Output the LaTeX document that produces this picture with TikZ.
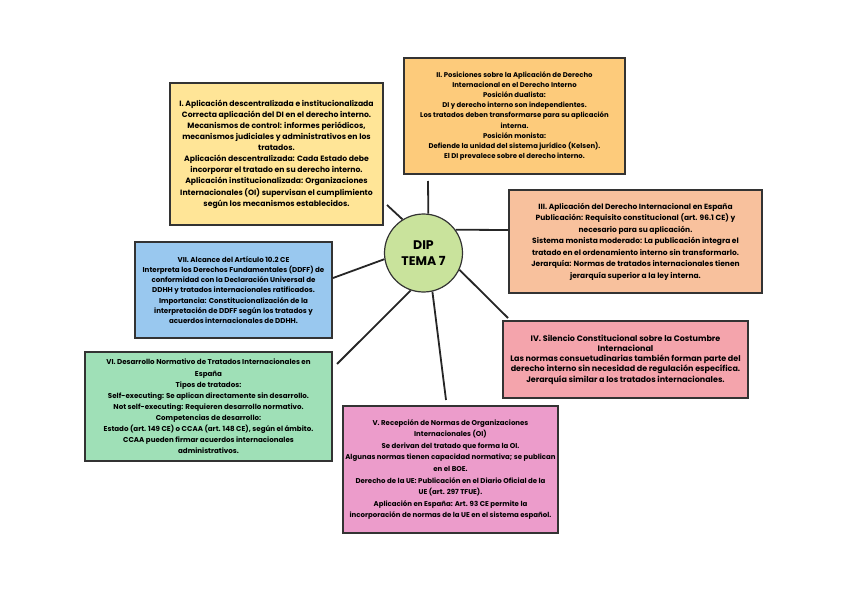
\documentclass[tikz,border=0pt]{standalone}
\usepackage{fontspec}
\setmainfont{Poppins}
\usepackage{tikz}
\usepackage{xcolor}

\definecolor{amarillo}{HTML}{FFE597}
\definecolor{naranja}{HTML}{FDCB7B}
\definecolor{melocoton}{HTML}{F8C19D}
\definecolor{rosa}{HTML}{F4A4AC}
\definecolor{magenta}{HTML}{EC9CCB}
\definecolor{verde}{HTML}{9FE0B7}
\definecolor{azul}{HTML}{99C8EF}
\definecolor{lima}{HTML}{C9E39C}

\begin{document}
\begin{tikzpicture}[x=1pt, y=-1pt,
    caja/.style={draw=black!80, line width=1.2pt, align=center, inner sep=2pt},
    enlace/.style={line width=1.8pt, draw=black!85}]
    \useasboundingbox (0,0) rectangle (848,596);
    \node[caja, fill=lima, circle, minimum size=78pt, font=\fontsize{12.5}{15.5}\selectfont\bfseries] (dip) at (423.5,253) {DIP\\TEMA 7};
    \node[caja, fill=amarillo, minimum width=213pt, minimum height=142pt, font=\fontsize{7.7}{11.1}\selectfont\bfseries] (descent) at (276.5,154) {I. Aplicación descentralizada e institucionalizada\\Correcta aplicación del DI en el derecho interno.\\Mecanismos de control: informes periódicos,\\mecanismos judiciales y administrativos en los\\tratados.\\Aplicación descentralizada: Cada Estado debe\\incorporar el tratado en su derecho interno.\\Aplicación institucionalizada: Organizaciones\\Internacionales (OI) supervisan el cumplimiento\\según los mecanismos establecidos.};
    \node[caja, fill=naranja, minimum width=221pt, minimum height=116pt, font=\fontsize{6.9}{10.2}\selectfont\bfseries] (posic) at (514.5,116) {II. Posiciones sobre la Aplicación de Derecho\\Internacional en el Derecho Interno\\Posición dualista:\\DI y derecho interno son independientes.\\Los tratados deben transformarse para su aplicación\\interna.\\Posición monista:\\Defiende la unidad del sistema jurídico (Kelsen).\\El DI prevalece sobre el derecho interno.};
    \node[caja, fill=melocoton, minimum width=253pt, minimum height=103pt, font=\fontsize{7.5}{11.5}\selectfont\bfseries] (espana) at (635.5,241.5) {III. Aplicación del Derecho Internacional en España\\Publicación: Requisito constitucional (art. 96.1 CE) y\\necesario para su aplicación.\\Sistema monista moderado: La publicación integra el\\tratado en el ordenamiento interno sin transformarlo.\\Jerarquía: Normas de tratados internacionales tienen\\jerarquía superior a la ley interna.};
    \node[caja, fill=rosa, minimum width=245pt, minimum height=77pt, font=\fontsize{8}{10.3}\selectfont\bfseries] (costumbre) at (625.5,359.5) {IV. Silencio Constitucional sobre la Costumbre\\Internacional\\Las normas consuetudinarias también forman parte del\\derecho interno sin necesidad de regulación específica.\\Jerarquía similar a los tratados internacionales.};
    \node[caja, fill=magenta, minimum width=215pt, minimum height=127pt, font=\fontsize{7}{11.6}\selectfont\bfseries] (recepcion) at (450.5,469.5) {V. Recepción de Normas de Organizaciones\\Internacionales (OI)\\Se derivan del tratado que forma la OI.\\Algunas normas tienen capacidad normativa; se publican\\en el BOE.\\Derecho de la UE: Publicación en el Diario Oficial de la\\UE (art. 297 TFUE).\\Aplicación en España: Art. 93 CE permite la\\incorporación de normas de la UE en el sistema español.};
    \node[caja, fill=verde, minimum width=247pt, minimum height=109pt, font=\fontsize{7.1}{11.1}\selectfont\bfseries] (desarrollo) at (208.5,406.5) {VI. Desarrollo Normativo de Tratados Internacionales en\\España\\Tipos de tratados:\\Self-executing: Se aplican directamente sin desarrollo.\\Not self-executing: Requieren desarrollo normativo.\\Competencias de desarrollo:\\Estado (art. 149 CE) o CCAA (art. 148 CE), según el ámbito.\\CCAA pueden firmar acuerdos internacionales\\administrativos.};
    \node[caja, fill=azul, minimum width=197pt, minimum height=96pt, font=\fontsize{7.1}{10.3}\selectfont\bfseries] (alcance) at (233.5,290) {VII. Alcance del Artículo 10.2 CE\\Interpreta los Derechos Fundamentales (DDFF) de\\conformidad con la Declaración Universal de\\DDHH y tratados internacionales ratificados.\\Importancia: Constitucionalización de la\\interpretación de DDFF según los tratados y\\acuerdos internacionales de DDHH.};
    \coordinate (fdescent) at (387,205);
    \coordinate (fposic) at (428,181);
    \coordinate (fespana) at (508,230);
    \coordinate (fcostumbre) at (508,318);
    \coordinate (frecepcion) at (446,400);
    \coordinate (fdesarrollo) at (337,364);
    \coordinate (falcance) at (333,278);
    \draw[enlace] (dip.122) -- (fdescent);
    \draw[enlace] (dip.83) -- (fposic);
    \draw[enlace] (dip.36) -- (fespana);
    \draw[enlace] (dip.-25) -- (fcostumbre);
    \draw[enlace] (dip.-77) -- (frecepcion);
    \draw[enlace] (dip.-109) -- (fdesarrollo);
    \draw[enlace] (dip.189) -- (falcance);
\end{tikzpicture}
\end{document}
